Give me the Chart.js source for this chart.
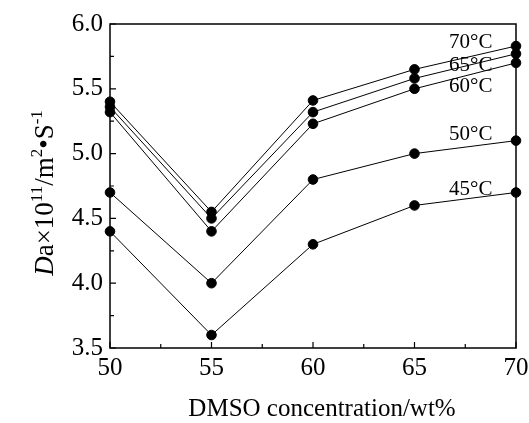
<!DOCTYPE html>
<html>
<head>
<meta charset="utf-8">
<script src="https://cdn.jsdelivr.net/npm/chart.js@4/dist/chart.umd.min.js"></script>
<style>
  html, body { margin: 0; padding: 0; background: #fff; }
  #wrap { width: 529px; height: 423px; }
</style>
</head>
<body>
<div id="wrap"><canvas id="myChart" width="529" height="423"></canvas></div>
<script>
// DMSO concentration (wt%)
const concentrations = [50, 55, 60, 65, 70];

// Da x 10^11 values for each temperature
const da70 = [5.40, 4.55, 5.41, 5.65, 5.83];
const da65 = [5.36, 4.50, 5.32, 5.58, 5.77];
const da60 = [5.32, 4.40, 5.23, 5.50, 5.70];
const da50 = [4.70, 4.00, 4.80, 5.00, 5.10];
const da45 = [4.40, 3.60, 4.30, 4.60, 4.70];

const seriesNames = ["70°C", "65°C", "60°C", "50°C", "45°C"];
const seriesValues = [da70, da65, da60, da50, da45];

// where the temperature labels sit (data units)
const labelX = [66.7, 66.7, 66.7, 66.7, 66.7];
const labelY = [5.86, 5.68, 5.52, 5.15, 4.72];

const SERIF = "'Liberation Serif', 'Times New Roman', serif";

const datasets = seriesValues.map((vals, i) => ({
  label: seriesNames[i],
  data: concentrations.map((c, j) => ({ x: c, y: vals[j] })),
  borderColor: "#000",
  backgroundColor: "#000",
  borderWidth: 1,
  pointRadius: 4.8,
  pointHoverRadius: 4.8,
  tension: 0,
  clip: false,
}));

// box round the plot plus inward major/minor ticks
const framePlugin = {
  id: "frame",
  beforeDatasetsDraw(chart) {
    const { ctx, chartArea: a, scales } = chart;
    ctx.save();
    ctx.strokeStyle = "#000";
    ctx.lineWidth = 1.5;
    ctx.strokeRect(a.left, a.top, a.right - a.left, a.bottom - a.top);
    ctx.lineWidth = 1.2;
    ctx.beginPath();
    for (let v = 50; v <= 70.001; v += 2.5) {
      const px = scales.x.getPixelForValue(v);
      const len = Math.abs(v % 5) < 0.01 ? 6 : 4;
      ctx.moveTo(px, a.bottom);
      ctx.lineTo(px, a.bottom - len);
    }
    for (let v = 3.5; v <= 6.001; v += 0.25) {
      const py = scales.y.getPixelForValue(v);
      const len = Math.abs((v * 2) % 1) < 0.01 ? 6 : 4;
      ctx.moveTo(a.left, py);
      ctx.lineTo(a.left + len, py);
    }
    ctx.stroke();
    ctx.restore();
  },
  afterDatasetsDraw(chart) {
    const { ctx, scales } = chart;
    ctx.save();
    ctx.fillStyle = "#000";
    ctx.font = "21px " + SERIF;
    ctx.textAlign = "left";
    ctx.textBaseline = "middle";
    seriesNames.forEach((name, i) => {
      ctx.fillText(name, scales.x.getPixelForValue(labelX[i]), scales.y.getPixelForValue(labelY[i]));
    });
    ctx.restore();
  },
  afterDraw(chart) {
    const { ctx, chartArea: a } = chart;
    ctx.save();
    ctx.fillStyle = "#000";

    // x axis title
    ctx.font = "25px " + SERIF;
    ctx.textAlign = "center";
    ctx.textBaseline = "alphabetic";
    ctx.fillText("DMSO concentration/wt%", (a.left + a.right) / 2 + 9, 416);

    // y axis title with superscripts
    const parts = [
      { t: "D", italic: true },
      { t: "a×10" },
      { t: "11", sup: true },
      { t: "/m" },
      { t: "2", sup: true },
      { t: "•S" },
      { t: "-1", sup: true },
    ];
    const fontFor = (p) => (p.italic ? "italic " : "") + (p.sup ? "17px " : "27px ") + SERIF;
    let total = 0;
    parts.forEach((p) => {
      ctx.font = fontFor(p);
      p.w = ctx.measureText(p.t).width;
      total += p.w;
    });
    ctx.translate(53, 193);
    ctx.rotate(-Math.PI / 2);
    ctx.textAlign = "left";
    let x = -total / 2;
    parts.forEach((p) => {
      ctx.font = fontFor(p);
      ctx.fillText(p.t, x, p.sup ? -11 : 0);
      x += p.w;
    });
    ctx.restore();
  },
};

const ctx = document.getElementById("myChart").getContext("2d");
new Chart(ctx, {
  type: "line",
  data: { datasets: datasets },
  options: {
    responsive: false,
    animation: false,
    layout: { padding: { left: 0, top: 24, right: 13, bottom: 0 } },
    plugins: {
      legend: { display: false },
      tooltip: { enabled: false },
    },
    scales: {
      x: {
        type: "linear",
        min: 50,
        max: 70,
        grid: { display: false, drawTicks: false },
        border: { display: false },
        ticks: {
          stepSize: 5,
          padding: 5,
          color: "#000",
          font: { family: SERIF, size: 25 },
          maxRotation: 0,
        },
        afterFit(scale) {
          scale.height = 75;
          scale.paddingLeft = 0;
          scale.paddingRight = 0;
        },
      },
      y: {
        min: 3.5,
        max: 6.0,
        grid: { display: false, drawTicks: false },
        border: { display: false },
        ticks: {
          stepSize: 0.5,
          padding: 7,
          color: "#000",
          font: { family: SERIF, size: 25 },
          callback: (v) => v.toFixed(1),
        },
        afterFit(scale) {
          scale.width = 110;
          scale.paddingTop = 0;
          scale.paddingBottom = 0;
        },
      },
    },
  },
  plugins: [framePlugin],
});
</script>
</body>
</html>
